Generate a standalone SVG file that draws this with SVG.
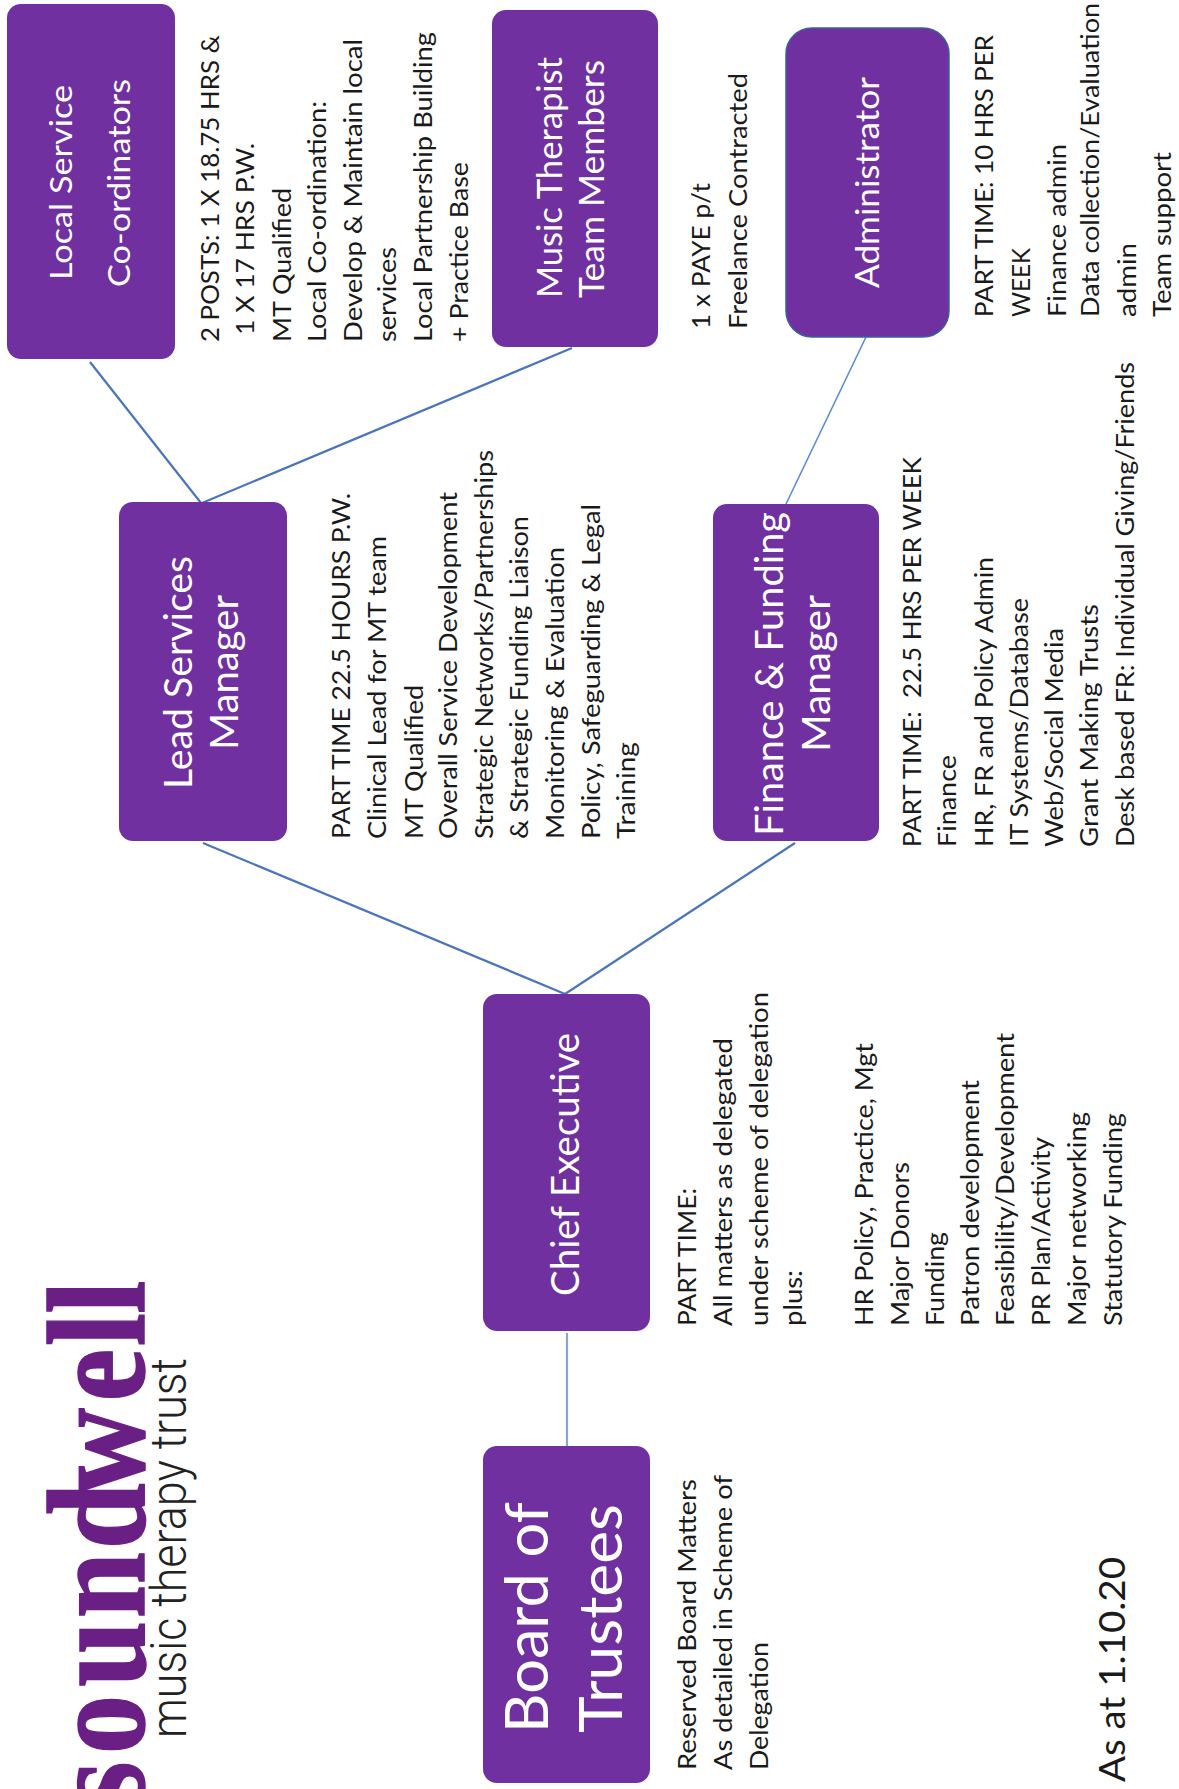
<svg xmlns="http://www.w3.org/2000/svg" width="1179" height="1789" viewBox="0 0 1179 1789">
<style>
text{font-family:"Lato","Open Sans","Liberation Sans",sans-serif}
.box{fill:#7030a0}
.l{fill:#fff}
.b{fill:#1a1a1a;font-size:25px}
.c{fill:none;stroke:#4a74bd;stroke-width:2.2}
</style>
<rect width="1179" height="1789" fill="#fff"/>
<g id="connectors">
<line class="c" x1="90" y1="362" x2="201" y2="503"/>
<line class="c" x1="572" y1="348" x2="202" y2="503"/>
<line class="c" x1="866" y1="337" x2="786" y2="504" style="stroke:#5b8bd6;stroke-width:1.6"/>
<line class="c" x1="203" y1="843" x2="565" y2="994"/>
<line class="c" x1="795" y1="843" x2="565" y2="994"/>
<line class="c" x1="567" y1="1333" x2="567" y2="1447" style="stroke:#8aa6cf"/>
</g>
<g id="logo">
<text transform="translate(143.5 1789) rotate(-90) scale(.85 1)" x="-22 41 120 201 282 347 456 521 559" y="0" style="font-family:'Liberation Serif',serif;font-weight:700;font-size:140px;fill:#6a1f84;stroke:#6a1f84;stroke-width:1.5">soundwell</text>
<text transform="translate(185.5 1738) rotate(-90)" textLength="380" lengthAdjust="spacingAndGlyphs" style="font-family:Roboto,sans-serif;font-weight:300;font-size:50px;fill:#222">music therapy trust</text>
</g>
<g id="local-service">
<rect class="box" x="7" y="4" width="168" height="355" rx="14"/>
<text class="l" transform="translate(72 280) rotate(-90)" font-size="31" textLength="195" lengthAdjust="spacingAndGlyphs">Local Service</text>
<text class="l" transform="translate(130 287) rotate(-90)" font-size="31" textLength="208" lengthAdjust="spacingAndGlyphs">Co-ordinators</text>
<text class="b" transform="translate(219 342) rotate(-90)" textLength="307" lengthAdjust="spacingAndGlyphs">2 POSTS: 1 X 18.75 HRS &amp;</text>
<text class="b" transform="translate(254 335) rotate(-90)" textLength="192" lengthAdjust="spacingAndGlyphs">1 X 17 HRS P.W.</text>
<text class="b" transform="translate(291 342) rotate(-90)" textLength="154" lengthAdjust="spacingAndGlyphs">MT Qualified</text>
<text class="b" transform="translate(326 342) rotate(-90)" textLength="241" lengthAdjust="spacingAndGlyphs">Local Co-ordination:</text>
<text class="b" transform="translate(362 342) rotate(-90)" textLength="303" lengthAdjust="spacingAndGlyphs">Develop &amp; Maintain local</text>
<text class="b" transform="translate(396 342) rotate(-90)" textLength="95" lengthAdjust="spacingAndGlyphs">services</text>
<text class="b" transform="translate(432 342) rotate(-90)" textLength="310" lengthAdjust="spacingAndGlyphs">Local Partnership Building</text>
<text class="b" transform="translate(468 342) rotate(-90)" textLength="180" lengthAdjust="spacingAndGlyphs">+ Practice Base</text>
</g>
<g id="music-therapist">
<rect class="box" x="492" y="10" width="166" height="337" rx="14"/>
<text class="l" transform="translate(562 298) rotate(-90)" font-size="34" textLength="241" lengthAdjust="spacingAndGlyphs">Music Therapist</text>
<text class="l" transform="translate(604 298) rotate(-90)" font-size="34" textLength="238" lengthAdjust="spacingAndGlyphs">Team Members</text>
<text class="b" transform="translate(710 329) rotate(-90)" textLength="146" lengthAdjust="spacingAndGlyphs">1 x PAYE p/t</text>
<text class="b" transform="translate(747 329) rotate(-90)" textLength="256" lengthAdjust="spacingAndGlyphs">Freelance Contracted</text>
</g>
<g id="administrator">
<rect class="box" x="786" y="28" width="163" height="309" rx="26" stroke="#3b5f9e" stroke-width="1.5"/>
<text class="l" transform="translate(879 288) rotate(-90)" font-size="32" textLength="211" lengthAdjust="spacingAndGlyphs">Administrator</text>
<text class="b" transform="translate(993 317) rotate(-90)" textLength="282" lengthAdjust="spacingAndGlyphs">PART TIME: 10 HRS PER</text>
<text class="b" transform="translate(1029.5 317) rotate(-90)" textLength="69" lengthAdjust="spacingAndGlyphs">WEEK</text>
<text class="b" transform="translate(1066 317) rotate(-90)" textLength="173" lengthAdjust="spacingAndGlyphs">Finance admin</text>
<text class="b" transform="translate(1099 317) rotate(-90)" textLength="314" lengthAdjust="spacingAndGlyphs">Data collection/Evaluation</text>
<text class="b" transform="translate(1135.5 317) rotate(-90)" textLength="74" lengthAdjust="spacingAndGlyphs">admin</text>
<text class="b" transform="translate(1170.5 317) rotate(-90)" textLength="165" lengthAdjust="spacingAndGlyphs">Team support</text>
</g>
<g id="lead-services">
<rect class="box" x="119" y="502" width="168" height="339" rx="14"/>
<text class="l" transform="translate(192 789) rotate(-90)" font-size="39" textLength="233" lengthAdjust="spacingAndGlyphs">Lead Services</text>
<text class="l" transform="translate(238 750) rotate(-90)" font-size="39" textLength="155" lengthAdjust="spacingAndGlyphs">Manager</text>
<text class="b" transform="translate(350 839) rotate(-90)" textLength="346" lengthAdjust="spacingAndGlyphs">PART TIME 22.5 HOURS P.W.</text>
<text class="b" transform="translate(386 839) rotate(-90)" textLength="303" lengthAdjust="spacingAndGlyphs">Clinical Lead for MT team</text>
<text class="b" transform="translate(422.5 839) rotate(-90)" textLength="154" lengthAdjust="spacingAndGlyphs">MT Qualified</text>
<text class="b" transform="translate(457 839) rotate(-90)" textLength="347" lengthAdjust="spacingAndGlyphs">Overall Service Development</text>
<text class="b" transform="translate(493 839) rotate(-90)" textLength="389" lengthAdjust="spacingAndGlyphs">Strategic Networks/Partnerships</text>
<text class="b" transform="translate(527.5 839) rotate(-90)" textLength="323" lengthAdjust="spacingAndGlyphs">&amp; Strategic Funding Liaison</text>
<text class="b" transform="translate(564 839) rotate(-90)" textLength="292" lengthAdjust="spacingAndGlyphs">Monitoring &amp; Evaluation</text>
<text class="b" transform="translate(600 839) rotate(-90)" textLength="335" lengthAdjust="spacingAndGlyphs">Policy, Safeguarding &amp; Legal</text>
<text class="b" transform="translate(635 839) rotate(-90)" textLength="97" lengthAdjust="spacingAndGlyphs">Training</text>
</g>
<g id="finance-funding">
<rect class="box" x="713" y="504" width="166" height="337" rx="14"/>
<text class="l" transform="translate(783 836) rotate(-90)" font-size="39" textLength="324" lengthAdjust="spacingAndGlyphs">Finance &amp; Funding</text>
<text class="l" transform="translate(830 752) rotate(-90)" font-size="39" textLength="157" lengthAdjust="spacingAndGlyphs">Manager</text>
<text class="b" xml:space="preserve" transform="translate(921 847) rotate(-90)" textLength="390" lengthAdjust="spacingAndGlyphs">PART TIME:  22.5 HRS PER WEEK</text>
<text class="b" transform="translate(956 847) rotate(-90)" textLength="92" lengthAdjust="spacingAndGlyphs">Finance</text>
<text class="b" transform="translate(993 847) rotate(-90)" textLength="290" lengthAdjust="spacingAndGlyphs">HR, FR and Policy Admin</text>
<text class="b" transform="translate(1028 847) rotate(-90)" textLength="249" lengthAdjust="spacingAndGlyphs">IT Systems/Database</text>
<text class="b" transform="translate(1063 847) rotate(-90)" textLength="219" lengthAdjust="spacingAndGlyphs">Web/Social Media</text>
<text class="b" transform="translate(1098 847) rotate(-90)" textLength="243" lengthAdjust="spacingAndGlyphs">Grant Making Trusts</text>
<text class="b" transform="translate(1134 847) rotate(-90)" textLength="485" lengthAdjust="spacingAndGlyphs">Desk based FR: Individual Giving/Friends</text>
</g>
<g id="chief-executive">
<rect class="box" x="483" y="994" width="167" height="337" rx="14"/>
<text class="l" transform="translate(578.5 1296) rotate(-90)" font-size="39" textLength="263" lengthAdjust="spacingAndGlyphs">Chief Executive</text>
<text class="b" transform="translate(695.5 1326) rotate(-90)" textLength="138" lengthAdjust="spacingAndGlyphs">PART TIME:</text>
<text class="b" transform="translate(732 1326) rotate(-90)" textLength="288" lengthAdjust="spacingAndGlyphs">All matters as delegated</text>
<text class="b" transform="translate(768 1326) rotate(-90)" textLength="334" lengthAdjust="spacingAndGlyphs">under scheme of delegation</text>
<text class="b" transform="translate(802 1326) rotate(-90)" textLength="56" lengthAdjust="spacingAndGlyphs">plus:</text>
<text class="b" transform="translate(873 1326) rotate(-90)" textLength="283" lengthAdjust="spacingAndGlyphs">HR Policy, Practice, Mgt</text>
<text class="b" transform="translate(909 1326) rotate(-90)" textLength="164" lengthAdjust="spacingAndGlyphs">Major Donors</text>
<text class="b" transform="translate(944 1326) rotate(-90)" textLength="94" lengthAdjust="spacingAndGlyphs">Funding</text>
<text class="b" transform="translate(979 1326) rotate(-90)" textLength="246" lengthAdjust="spacingAndGlyphs">Patron development</text>
<text class="b" transform="translate(1014 1326) rotate(-90)" textLength="293" lengthAdjust="spacingAndGlyphs">Feasibility/Development</text>
<text class="b" transform="translate(1050 1326) rotate(-90)" textLength="189" lengthAdjust="spacingAndGlyphs">PR Plan/Activity</text>
<text class="b" transform="translate(1086 1326) rotate(-90)" textLength="214" lengthAdjust="spacingAndGlyphs">Major networking</text>
<text class="b" transform="translate(1122 1326) rotate(-90)" textLength="213" lengthAdjust="spacingAndGlyphs">Statutory Funding</text>
</g>
<g id="board-of-trustees">
<rect class="box" x="483" y="1446" width="167" height="337" rx="14"/>
<text class="l" transform="translate(548 1733) rotate(-90)" font-size="60" textLength="231" lengthAdjust="spacingAndGlyphs">Board of</text>
<text class="l" transform="translate(622 1733) rotate(-90)" font-size="60" textLength="229" lengthAdjust="spacingAndGlyphs">Trustees</text>
<text class="b" transform="translate(695.5 1770) rotate(-90)" textLength="291" lengthAdjust="spacingAndGlyphs">Reserved Board Matters</text>
<text class="b" transform="translate(731.5 1770) rotate(-90)" textLength="295" lengthAdjust="spacingAndGlyphs">As detailed in Scheme of</text>
<text class="b" transform="translate(768 1770) rotate(-90)" textLength="128" lengthAdjust="spacingAndGlyphs">Delegation</text>
</g>
<g id="date">
<text transform="translate(1125 1782) rotate(-90)" font-size="36" fill="#1a1a1a" textLength="225" lengthAdjust="spacingAndGlyphs">As at 1.10.20</text>
</g>
</svg>
